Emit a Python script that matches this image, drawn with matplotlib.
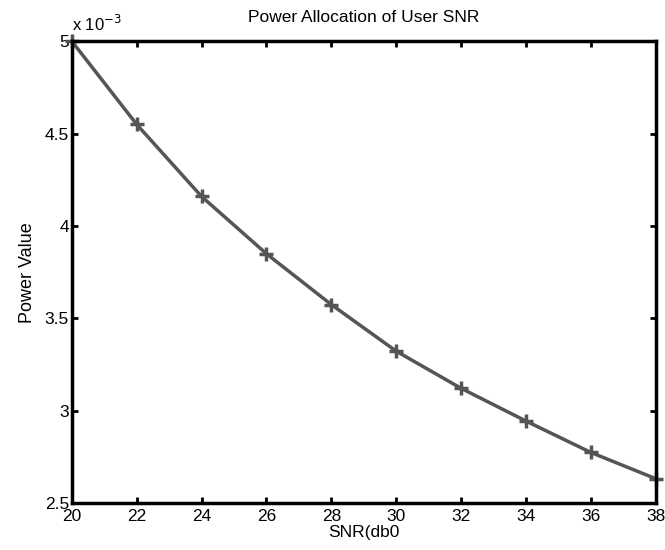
import matplotlib
matplotlib.use('Agg')
import matplotlib.pyplot as plt
from matplotlib.ticker import FuncFormatter
import numpy as np

plt.rcParams['font.family'] = ['Liberation Sans', 'DejaVu Sans']

# data
snr = [20, 22, 24, 26, 28, 30, 32, 34, 36, 38]
power = [5.00e-3, 4.55e-3, 4.16e-3, 3.85e-3, 3.575e-3, 3.323e-3, 3.122e-3, 2.945e-3, 2.775e-3, 2.633e-3]
xticks = [20, 22, 24, 26, 28, 30, 32, 34, 36, 38]
yticks = [2.5e-3, 3.0e-3, 3.5e-3, 4.0e-3, 4.5e-3, 5.0e-3]

fig = plt.figure(figsize=(6.65, 5.5), dpi=100)
ax = fig.add_axes([0.108, 0.085, 0.878, 0.84])

ax.plot(snr, power, color='#555555', lw=2.5, marker='+', ms=10, mew=2.5, clip_on=False)

ax.set_xlim(20, 38)
ax.set_ylim(2.5e-3, 5e-3)
ax.set_xticks(xticks)
ax.set_yticks(yticks)
ax.yaxis.set_major_formatter(FuncFormatter(lambda v, p: ('%g' % round(v * 1e3, 3))))

ax.tick_params(direction='in', length=4, width=2, labelsize=12.5, top=True, right=True)
ax.tick_params(axis='x', pad=4)
ax.tick_params(axis='y', pad=2)
for s in ax.spines.values():
    s.set_linewidth(2.5)

ax.set_title('Power Allocation of User SNR', fontsize=12.5, pad=14)
ax.set_xlabel('SNR(db0', fontsize=12.5, labelpad=1)
ax.set_ylabel('Power Value', fontsize=13, labelpad=6)
ax.text(0.0, 1.015, r'x 10$^{-3}$', transform=ax.transAxes, fontsize=12, ha='left', va='bottom')

plt.savefig('out.png', dpi=100)
